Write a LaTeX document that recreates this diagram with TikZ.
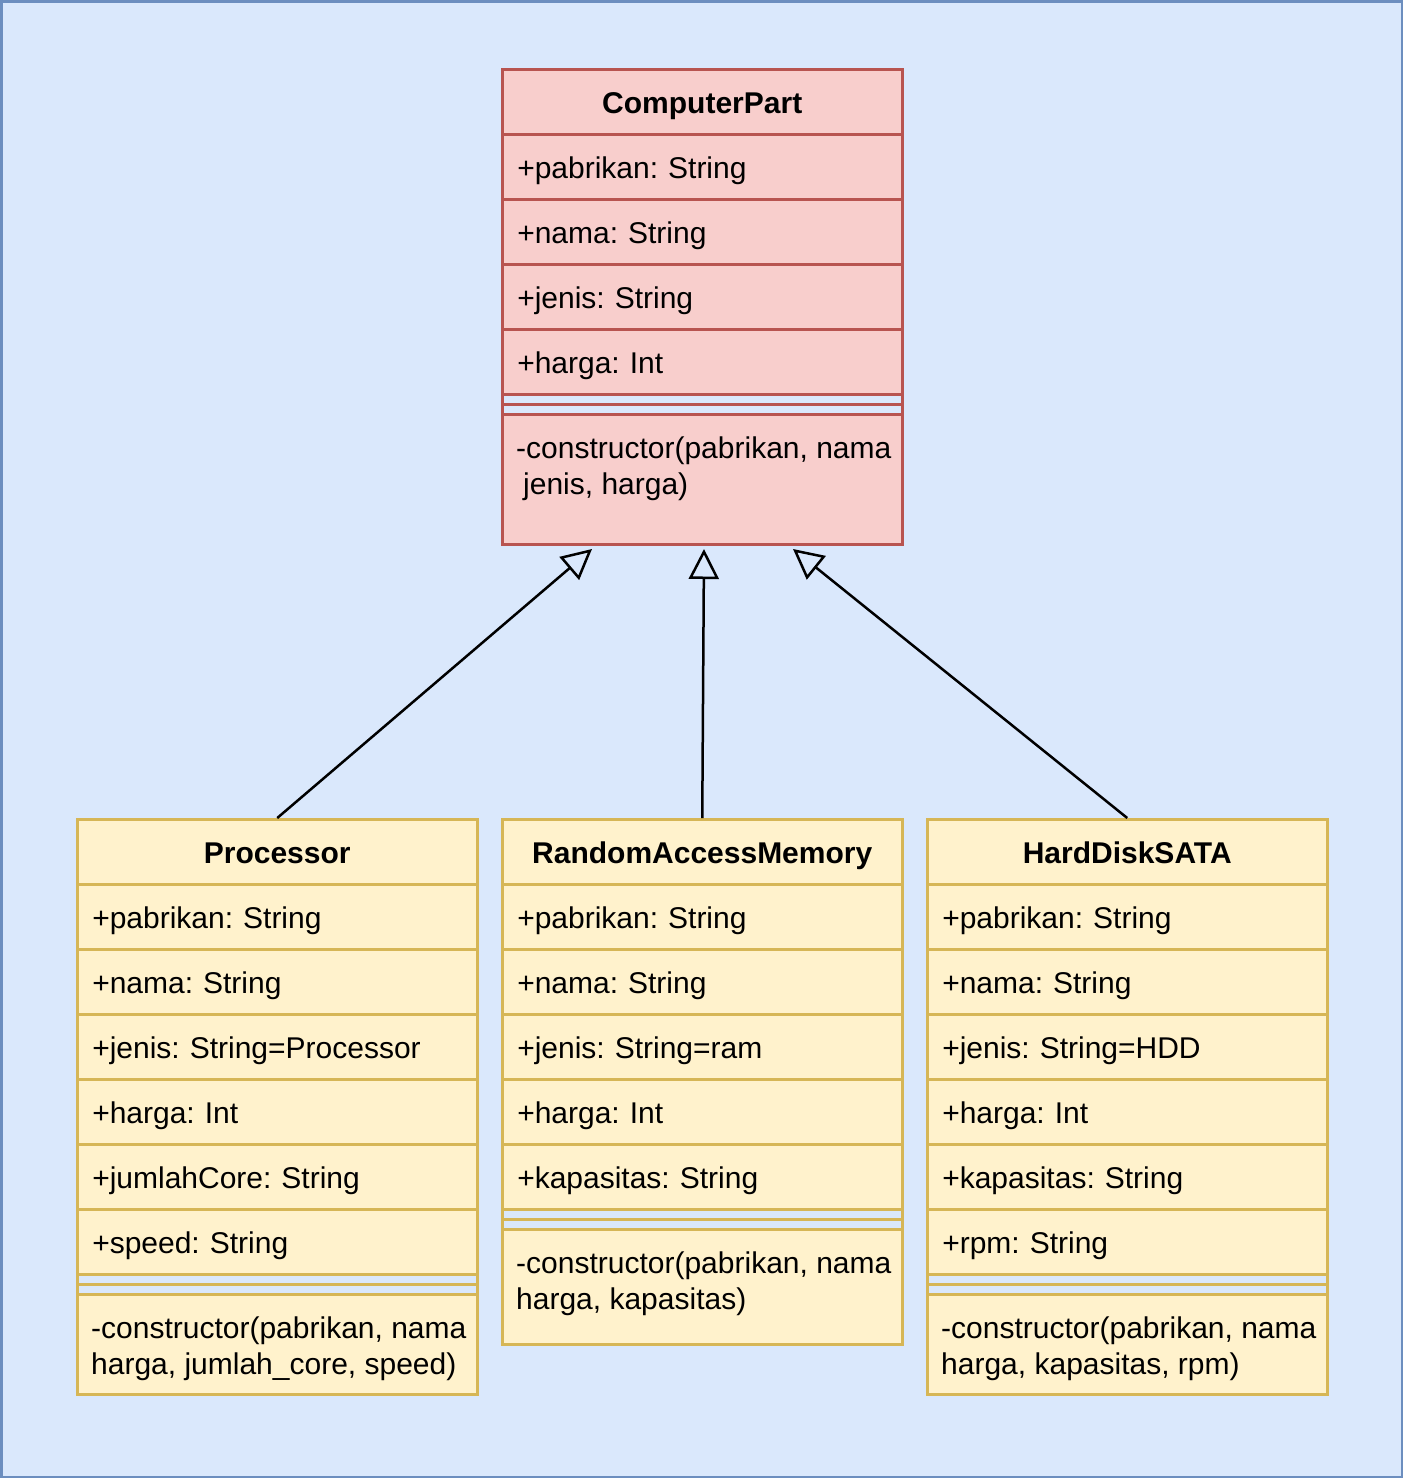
\documentclass[tikz,border=0pt]{standalone}
\usepackage{fontspec}
\setmainfont{Liberation Sans}
\usetikzlibrary{arrows.meta,calc}
\definecolor{bgfill}{HTML}{DAE8FC}
\definecolor{bgline}{HTML}{6C8EBF}
\definecolor{rfill}{HTML}{F8CECC}
\definecolor{rline}{HTML}{B85450}
\definecolor{yfill}{HTML}{FFF2CC}
\definecolor{yline}{HTML}{D6B656}
\tikzset{
  umlfont/.style={font=\fontsize{30}{36}\selectfont\frenchspacing},
  base/.style={draw, line width=2.5pt, minimum width=400pt, minimum height=65pt, anchor=north west, inner ysep=0pt, inner xsep=15pt, text width=370pt, text height=26pt, text depth=2pt, umlfont},
  hdr/.style={base, align=center, font=\fontsize{30}{36}\selectfont\bfseries},
  attr/.style={base, align=left},
  sepbox/.style={draw, line width=2.5pt, minimum width=400pt, minimum height=20pt, anchor=north west, inner sep=0pt},
  methbox/.style={draw, line width=2.5pt, minimum width=400pt, anchor=north west, inner sep=0pt},
  methtext/.style={anchor=north west, inner sep=0pt, align=left, umlfont},
  redcls/.style={fill=rfill, draw=rline},
  yelcls/.style={fill=yfill, draw=yline},
  inherit/.style={draw=black, line width=2.5pt, -{Triangle[open, length=30pt, width=30pt, line width=2.5pt]}}
}
\begin{document}
\begin{tikzpicture}[x=1pt, y=-1pt]
\useasboundingbox (0,0) rectangle (1403,1478);
\fill[bgfill, draw=bgline, line width=2.5pt] (1.25,1.25) rectangle (1401.75,1476.75);

% ComputerPart
\node[hdr, redcls] (cp-h) at (501,68) {ComputerPart};
\node[attr, redcls] (cp-1) at (501,133) {+pabrikan: String};
\node[attr, redcls] (cp-2) at (501,198) {+nama: String};
\node[attr, redcls] (cp-3) at (501,263) {+jenis: String};
\node[attr, redcls] (cp-4) at (501,328) {+harga: Int};
\node[sepbox, draw=rline] (cp-s) at (501,393) {};
\draw[rline, line width=2.5pt] (cp-s.west) -- (cp-s.east);
\node[methbox, redcls, minimum height=130pt] (cp-m) at (501,413) {};
\node[methtext] (cp-mt) at (516,437) {-constructor(pabrikan, nama\\\hspace{7pt}jenis, harga)};

% Processor
\node[hdr, yelcls] (pr-h) at (76,818) {Processor};
\node[attr, yelcls] (pr-1) at (76,883) {+pabrikan: String};
\node[attr, yelcls] (pr-2) at (76,948) {+nama: String};
\node[attr, yelcls] (pr-3) at (76,1013) {+jenis: String=Processor};
\node[attr, yelcls] (pr-4) at (76,1078) {+harga: Int};
\node[attr, yelcls] (pr-5) at (76,1143) {+jumlahCore: String};
\node[attr, yelcls] (pr-6) at (76,1208) {+speed: String};
\node[sepbox, draw=yline] (pr-s) at (76,1273) {};
\draw[yline, line width=2.5pt] (pr-s.west) -- (pr-s.east);
\node[methbox, yelcls, minimum height=100pt] (pr-m) at (76,1293) {};
\node[methtext] (pr-mt) at (91,1317) {-constructor(pabrikan, nama\\harga, jumlah\_core, speed)};

% RandomAccessMemory
\node[hdr, yelcls] (ra-h) at (501,818) {RandomAccessMemory};
\node[attr, yelcls] (ra-1) at (501,883) {+pabrikan: String};
\node[attr, yelcls] (ra-2) at (501,948) {+nama: String};
\node[attr, yelcls] (ra-3) at (501,1013) {+jenis: String=ram};
\node[attr, yelcls] (ra-4) at (501,1078) {+harga: Int};
\node[attr, yelcls] (ra-5) at (501,1143) {+kapasitas: String};
\node[sepbox, draw=yline] (ra-s) at (501,1208) {};
\draw[yline, line width=2.5pt] (ra-s.west) -- (ra-s.east);
\node[methbox, yelcls, minimum height=115pt] (ra-m) at (501,1228) {};
\node[methtext] (ra-mt) at (516,1252) {-constructor(pabrikan, nama\\harga, kapasitas)};

% HardDiskSATA
\node[hdr, yelcls] (hd-h) at (926,818) {HardDiskSATA};
\node[attr, yelcls] (hd-1) at (926,883) {+pabrikan: String};
\node[attr, yelcls] (hd-2) at (926,948) {+nama: String};
\node[attr, yelcls] (hd-3) at (926,1013) {+jenis: String=HDD};
\node[attr, yelcls] (hd-4) at (926,1078) {+harga: Int};
\node[attr, yelcls] (hd-5) at (926,1143) {+kapasitas: String};
\node[attr, yelcls] (hd-6) at (926,1208) {+rpm: String};
\node[sepbox, draw=yline] (hd-s) at (926,1273) {};
\draw[yline, line width=2.5pt] (hd-s.west) -- (hd-s.east);
\node[methbox, yelcls, minimum height=100pt] (hd-m) at (926,1293) {};
\node[methtext] (hd-mt) at (941,1317) {-constructor(pabrikan, nama\\harga, kapasitas, rpm)};

% inheritance
\coordinate (t1) at (592,549);
\coordinate (t2) at (704,549);
\coordinate (t3) at (793,549);
\draw[inherit] (pr-h.north) -- (t1);
\draw[inherit] (ra-h.north) -- (t2);
\draw[inherit] (hd-h.north) -- (t3);
\end{tikzpicture}
\end{document}
